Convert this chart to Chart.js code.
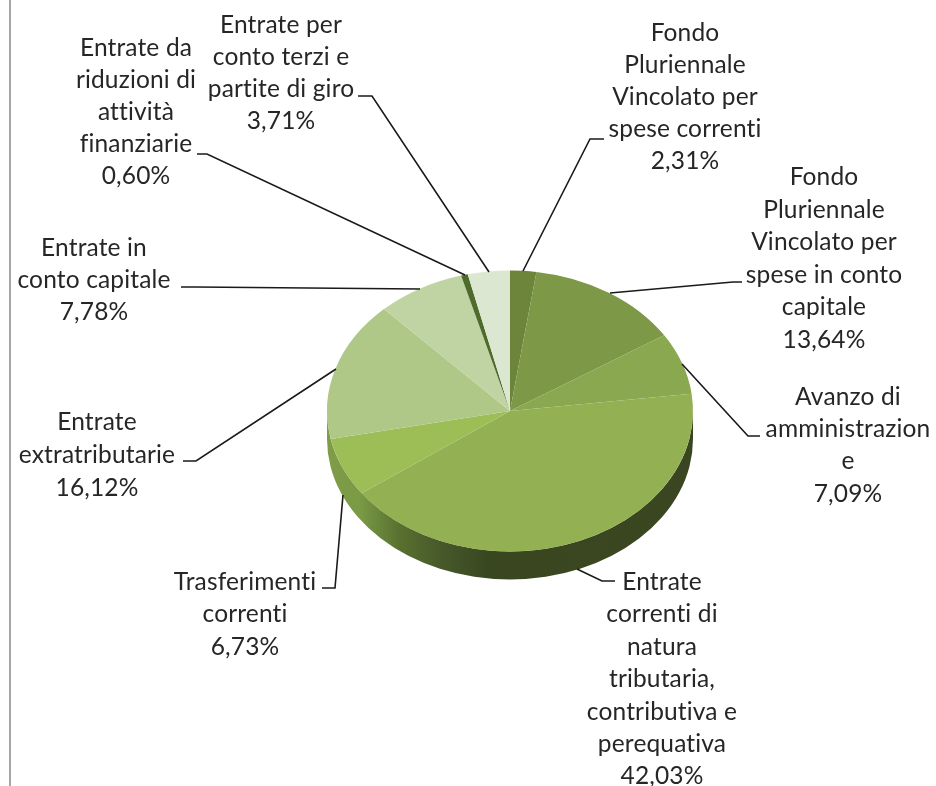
<!DOCTYPE html>
<html>
<head>
<meta charset="utf-8">
<title>Entrate</title>
<script src="https://cdn.jsdelivr.net/npm/chart.js@4"></script>
<style>
  html, body { margin: 0; padding: 0; background: #fff; overflow: hidden; }
  #wrap { position: relative; width: 936px; height: 786px; }
  canvas { display: block; }
</style>
</head>
<body>
<div id="wrap"><canvas id="grafico" width="936" height="786"></canvas></div>
<script>
// Dati
const categorie = [
  "Fondo Pluriennale Vincolato per spese correnti",
  "Fondo Pluriennale Vincolato per spese in conto capitale",
  "Avanzo di amministrazione",
  "Entrate correnti di natura tributaria, contributiva e perequativa",
  "Trasferimenti correnti",
  "Entrate extratributarie",
  "Entrate in conto capitale",
  "Entrate da riduzioni di attività finanziarie",
  "Entrate per conto terzi e partite di giro"
];
const valori = [2.31, 13.64, 7.09, 42.03, 6.73, 16.12, 7.78, 0.60, 3.71];

// Testo delle etichette, a capo come nell'originale
const righe = [
  ["Fondo", "Pluriennale", "Vincolato per", "spese correnti"],
  ["Fondo", "Pluriennale", "Vincolato per", "spese in conto", "capitale"],
  ["Avanzo di", "amministrazion", "e"],
  ["Entrate", "correnti di", "natura", "tributaria,", "contributiva e", "perequativa"],
  ["Trasferimenti", "correnti"],
  ["Entrate", "extratributarie"],
  ["Entrate in", "conto capitale"],
  ["Entrate da", "riduzioni di", "attività", "finanziarie"],
  ["Entrate per", "conto terzi e", "partite di giro"]
];

const colori = ["#6c853a", "#7d9846", "#89a84f", "#93b153", "#9dbd56", "#afc888", "#c0d4a3", "#4f6b2c", "#dbe7d0"];
const coloreTesto = "#262626";

// Posizione etichette: centro x, centro y della prima riga, passo
const posEtichette = [
  [685, 33, 32], [824, 177, 32.6], [848, 397, 32.2], [662, 582, 32.4], [245, 582, 32.5],
  [97, 422, 33], [94, 248, 32], [136, 48, 32], [281, 25, 32]
];
// Linee guida
const guide = [
  [[523, 271], [590, 139], [604, 139]],
  [[610, 293], [733, 282], [742, 282]],
  [[682, 364], [748, 436], [760, 436]],
  [[577, 569], [602, 581], [615, 581]],
  [[343, 495], [335, 588], [322, 588]],
  [[336, 369], [196, 461], [183, 461]],
  [[420, 289], [196, 287], [181, 287]],
  [[465, 275], [207, 154], [197, 154]],
  [[489, 272], [372, 96], [358, 96]]
];

const schiacciamento = 140.5 / 183; // ellisse della torta
const spessore = 28;

// Torta 3D: bordo inferiore e schiacciamento verticale
const torta3d = {
  id: "torta3d",
  beforeDatasetsDraw(chart) {
    const ctx = chart.ctx;
    const archi = chart.getDatasetMeta(0).data;
    const cx = archi[0].x, cy = archi[0].y, r = archi[0].outerRadius;

    // bordo laterale, solo la parte davanti
    const sfumatura = ctx.createLinearGradient(-r, 0, r, 0);
    sfumatura.addColorStop(0, "#7f9c48");
    sfumatura.addColorStop(0.09, "#7b9a45");
    sfumatura.addColorStop(0.15, "#66833a");
    sfumatura.addColorStop(0.2, "#58702f");
    sfumatura.addColorStop(0.31, "#47592a");
    sfumatura.addColorStop(0.44, "#394720");
    sfumatura.addColorStop(1, "#3a4621");

    ctx.save();
    ctx.translate(cx, cy);
    ctx.scale(1, schiacciamento);
    ctx.beginPath();
    ctx.arc(0, 0, r, 0, Math.PI);
    ctx.lineTo(-r, spessore / schiacciamento);
    ctx.arc(0, spessore / schiacciamento, r, Math.PI, 0, true);
    ctx.closePath();
    ctx.fillStyle = sfumatura;
    ctx.fill();
    ctx.restore();

    ctx.save();
    ctx.translate(cx, cy);
    ctx.scale(1, schiacciamento);
    ctx.translate(-cx, -cy);
  },
  afterDatasetsDraw(chart) {
    chart.ctx.restore();
  },
  afterDraw(chart) {
    const ctx = chart.ctx;
    ctx.save();

    // riga grigia a sinistra
    ctx.strokeStyle = "#a6a6a6";
    ctx.lineWidth = 2;
    ctx.beginPath();
    ctx.moveTo(10, 0);
    ctx.lineTo(10, 786);
    ctx.stroke();

    // linee guida
    ctx.strokeStyle = "#1a1a1a";
    ctx.lineWidth = 1.6;
    guide.forEach(g => {
      ctx.beginPath();
      g.forEach((p, i) => i === 0 ? ctx.moveTo(p[0], p[1]) : ctx.lineTo(p[0], p[1]));
      ctx.stroke();
    });

    // etichette con percentuale
    ctx.fillStyle = coloreTesto;
    ctx.font = "24.5px Lato";
    ctx.letterSpacing = "0.15px"; // evita le legature di Lato
    ctx.textAlign = "center";
    ctx.textBaseline = "middle";
    righe.forEach((testo, i) => {
      const [x, y, passo] = posEtichette[i];
      const tutte = testo.concat(valori[i].toFixed(2).replace(".", ",") + "%");
      tutte.forEach((t, k) => ctx.fillText(t, x, y + k * passo));
    });
    ctx.restore();
  }
};

new Chart(document.getElementById("grafico").getContext("2d"), {
  type: "pie",
  data: {
    labels: categorie,
    datasets: [{
      data: valori,
      backgroundColor: colori,
      borderWidth: 0,
      clip: false
    }]
  },
  options: {
    responsive: false,
    animation: false,
    layout: { padding: { left: 327, right: 243, top: 228, bottom: 192 } },
    plugins: {
      legend: { display: false },
      title: { display: false },
      tooltip: { enabled: false }
    }
  },
  plugins: [torta3d]
});
</script>
</body>
</html>
